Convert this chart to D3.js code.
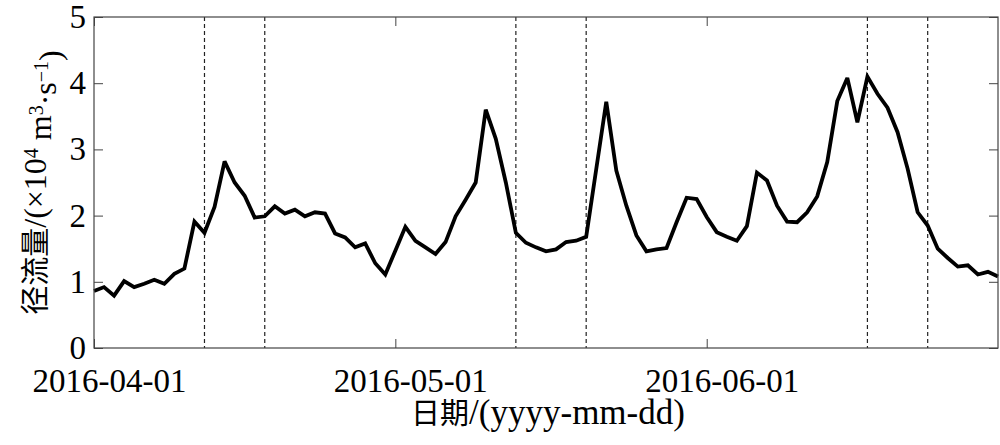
<!DOCTYPE html>
<html>
<head>
<meta charset="utf-8">
<script src="https://cdn.jsdelivr.net/npm/d3@7"></script>
<style>
  html, body { margin: 0; padding: 0; background: #fff; }
  svg { display: block; }
</style>
</head>
<body>
<svg id="chart" width="1000" height="445"></svg>
<script>
// ---- data ----
const startDate = "2016-04-01";
const endDate = "2016-06-30";
const runoff = [
  0.86, 0.92, 0.79, 1.01, 0.92, 0.97, 1.03, 0.97, 1.12, 1.20,
  1.91, 1.74, 2.13, 2.82, 2.50, 2.30, 1.97, 1.99, 2.14, 2.03,
  2.09, 1.99, 2.05, 2.03, 1.73, 1.67, 1.52, 1.58, 1.28, 1.11,
  1.47, 1.83, 1.62, 1.52, 1.42, 1.60, 1.99, 2.24, 2.50, 3.60,
  3.16, 2.50, 1.74, 1.59, 1.52, 1.46, 1.49, 1.60, 1.62, 1.68,
  2.70, 3.72, 2.68, 2.15, 1.70, 1.46, 1.49, 1.51, 1.90, 2.27,
  2.25, 1.98, 1.75, 1.68, 1.62, 1.84, 2.65, 2.53, 2.15, 1.91,
  1.90, 2.05, 2.29, 2.81, 3.73, 4.08, 3.41, 4.10, 3.84, 3.63,
  3.26, 2.71, 2.05, 1.85, 1.50, 1.36, 1.23, 1.25, 1.11, 1.15,
  1.08
];
const markerDates = ["2016-04-12", "2016-04-18", "2016-05-13", "2016-05-20", "2016-06-17", "2016-06-23"];
const xTickLabels = ["2016-04-01", "2016-05-01", "2016-06-01"];
const yTicks = [0, 1, 2, 3, 4, 5];
const xTitleCJK = "日期";
const xTitleLatin = "/(yyyy-mm-dd)";
const yTitleCJK = "径流量";

// ---- layout ----
const W = 1000, H = 445;
const m = { top: 17, right: 2, bottom: 97, left: 94 };
const iw = W - m.left - m.right, ih = H - m.top - m.bottom;
const FONT = '"Liberation Serif", "Times New Roman", "DejaVu Serif", "Noto Sans CJK SC", serif';
const parse = d3.utcParse("%Y-%m-%d");
const start = parse(startDate), end = parse(endDate);
const dates = d3.utcDay.range(start, d3.utcDay.offset(end, 1));
const series = dates.map((d, i) => ({ date: d, value: runoff[i] }));

const svg = d3.select("#chart");
const g = svg.append("g").attr("transform", `translate(${m.left},${m.top})`);

const x = d3.scaleUtc().domain([start, end]).range([0, iw]);
const y = d3.scaleLinear().domain([0, 5]).range([ih, 0]);

const axisColor = "#444";
const fs = 33;

// dashed markers
g.selectAll("line.marker").data(markerDates).join("line")
  .attr("class", "marker")
  .attr("x1", d => x(parse(d))).attr("x2", d => x(parse(d)))
  .attr("y1", 0).attr("y2", ih)
  .attr("stroke", "#222").attr("stroke-width", 1.2)
  .attr("stroke-dasharray", "4,3");

// line
const line = d3.line().x(d => x(d.date)).y(d => y(d.value));
g.append("path").datum(series)
  .attr("d", line)
  .attr("fill", "none")
  .attr("stroke", "#000")
  .attr("stroke-width", 3.8)
  .attr("stroke-linejoin", "miter")
  .attr("stroke-miterlimit", 3);

// axes
const xTickVals = xTickLabels.map(parse);
const fmt = d3.utcFormat("%Y-%m-%d");
const xAxis = g.append("g").attr("transform", `translate(0,${ih})`)
  .call(d3.axisBottom(x).tickValues(xTickVals).tickFormat(fmt).tickSizeInner(-9).tickSizeOuter(0).tickPadding(21));
const xAxisTop = g.append("g")
  .call(d3.axisTop(x).tickValues(xTickVals).tickFormat("").tickSizeInner(-9).tickSizeOuter(0));
const yAxis = g.append("g")
  .call(d3.axisLeft(y).tickValues(yTicks).tickFormat(d3.format("d")).tickSizeInner(-9).tickSizeOuter(0).tickPadding(8));
const yAxisRight = g.append("g").attr("transform", `translate(${iw},0)`)
  .call(d3.axisRight(y).tickValues(yTicks).tickFormat("").tickSizeInner(-9).tickSizeOuter(0));

[xAxis, xAxisTop, yAxis, yAxisRight].forEach(a => {
  a.attr("font-family", FONT).attr("font-size", fs);
  a.select(".domain").remove();
  a.selectAll(".tick line").attr("stroke", axisColor).attr("stroke-width", 1);
  a.selectAll("text").style("font-family", FONT).style("font-size", fs + "px").attr("fill", "#000");
});
xAxis.selectAll("text").attr("dx", 15);

// box
g.append("rect").attr("x", 0).attr("y", 0).attr("width", iw).attr("height", ih)
  .attr("fill", "none").attr("stroke", axisColor).attr("stroke-width", 1.2);

// y title
const yt = svg.append("text")
  .attr("transform", `translate(46,${m.top + ih / 2}) rotate(-90)`)
  .attr("text-anchor", "middle")
  .style("font-family", FONT)
  .style("font-size", "32px");
yt.append("tspan").style("font-size", "29px").text(yTitleCJK);
yt.append("tspan").text("/(×10");
yt.append("tspan").attr("dy", "-0.42em").style("font-size", "20px").text("4");
yt.append("tspan").attr("dy", "0.42em").text(" m");
yt.append("tspan").attr("dy", "-0.42em").style("font-size", "20px").text("3");
yt.append("tspan").attr("dy", "0.42em").text("·s");
yt.append("tspan").attr("dy", "-0.42em").style("font-size", "20px").text("−1");
yt.append("tspan").attr("dy", "0.42em").text(")");

// x title
const xt = svg.append("text")
  .attr("x", m.left + iw / 2 + 2).attr("y", 424)
  .attr("text-anchor", "middle")
  .style("font-family", FONT)
  .style("font-size", "35px");
xt.append("tspan").style("font-size", "29px").text(xTitleCJK);
xt.append("tspan").text(xTitleLatin);
</script>
</body>
</html>
